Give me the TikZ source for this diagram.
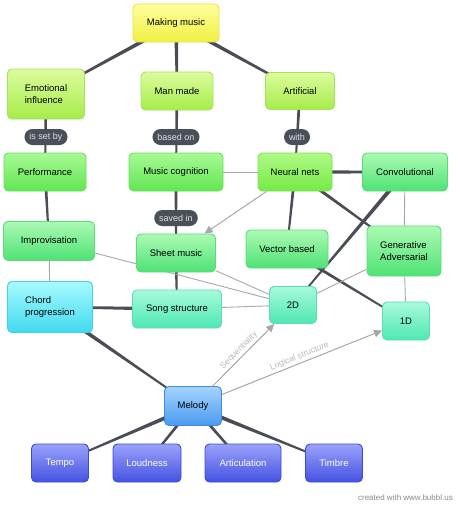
\documentclass[tikz,border=0pt]{standalone}
\usepackage{fontspec}
\setmainfont{Liberation Sans}
\usetikzlibrary{calc,arrows.meta}
\pgfdeclarelayer{bg}
\pgfsetlayers{bg,main}
\definecolor{edgedark}{HTML}{4A4D56}
\definecolor{edgegrey}{HTML}{A6A7AD}
\definecolor{pillcol}{HTML}{4B4F59}
\definecolor{lblgrey}{HTML}{B8B8BC}
\definecolor{credit}{HTML}{8A8A8A}
\definecolor{yelT}{HTML}{FFFF9E}\definecolor{yelB}{HTML}{F0F044}\definecolor{yelD}{HTML}{E3E34E}
\definecolor{limT}{HTML}{DDFC9E}\definecolor{limB}{HTML}{A6EC4A}\definecolor{limD}{HTML}{A3E45A}
\definecolor{nnT}{HTML}{B0FA84}\definecolor{nnB}{HTML}{74EA46}\definecolor{nnD}{HTML}{7EE060}
\definecolor{grnT}{HTML}{A8FA96}\definecolor{grnB}{HTML}{62E652}\definecolor{grnD}{HTML}{6CDC60}
\definecolor{mntT}{HTML}{ACFAB4}\definecolor{mntB}{HTML}{4EE274}\definecolor{mntD}{HTML}{5CDA7E}
\definecolor{aqT}{HTML}{A8FADC}\definecolor{aqB}{HTML}{4EE8B2}\definecolor{aqD}{HTML}{5CDEB2}
\definecolor{cyT}{HTML}{A8FAFE}\definecolor{cyB}{HTML}{40DAF0}\definecolor{cyD}{HTML}{4ACCE6}
\definecolor{blT}{HTML}{A6D4FE}\definecolor{blB}{HTML}{4A9AF0}\definecolor{blD}{HTML}{3C8CE2}
\definecolor{inT}{HTML}{9AA2FA}\definecolor{inB}{HTML}{4452E2}\definecolor{inD}{HTML}{3E4AD8}
\newcommand\taper[4]{\fill[edgedark] ($(#1)!#3!90:(#2)$) -- ($(#2)!#4!-90:(#1)$) -- ($(#2)!#4!90:(#1)$) -- ($(#1)!#3!-90:(#2)$) -- cycle;}
\tikzset{
  box/.style={rounded corners=4.5pt, line width=0.9pt, inner sep=2pt, align=center,
    font=\fontsize{9.5}{11.5}\selectfont, text=black},
  sz/.style 2 args={minimum width=#1pt, minimum height=#2pt},
  yel/.style={box, top color=yelT, bottom color=yelB, draw=yelD},
  lim/.style={box, top color=limT, bottom color=limB, draw=limD},
  nnc/.style={box, top color=nnT, bottom color=nnB, draw=nnD},
  grn/.style={box, top color=grnT, bottom color=grnB, draw=grnD},
  mnt/.style={box, top color=mntT, bottom color=mntB, draw=mntD},
  aq/.style={box, top color=aqT, bottom color=aqB, draw=aqD},
  cy/.style={box, top color=cyT, bottom color=cyB, draw=cyD},
  bl/.style={box, top color=blT, bottom color=blB, draw=blD},
  ind/.style={box, top color=inT, bottom color=inB, draw=inD, text=white},
  pill/.style={fill=pillcol, rounded corners=8pt, text=white!88!black,
    font=\fontsize{9}{10}\selectfont, inner xsep=5pt, inner ysep=2pt, minimum height=16pt},
  thinl/.style={draw=edgegrey, line width=0.9pt},
  garrow/.style={draw=edgegrey, line width=1pt, -{Triangle[length=8pt,width=7.5pt]}},
  lbl/.style={text=lblgrey, font=\fontsize{8.5}{10}\selectfont, inner sep=2pt}
}
\begin{document}
\begin{tikzpicture}[x=1pt,y=-1pt]
\useasboundingbox (0,0) rectangle (461,512);
% nodes
\node[yel,sz={86}{38}] (mm) at (176,23) {Making music};
\node[lim,sz={77}{50},align=left] (ei) at (46,94) {Emotional\\influence};
\node[lim,sz={72}{38}] (man) at (177,91) {Man made};
\node[lim,sz={69}{37}] (art) at (300,91) {Artificial};
\node[pill] (l1) at (46,137) {is set by};
\node[pill] (l2) at (176,137) {based on};
\node[pill] (l3) at (297,137) {with};
\node[grn,sz={82}{38}] (perf) at (45,172) {Performance};
\node[grn,sz={94}{38}] (mc) at (176,172) {Music cognition};
\node[nnc,sz={74}{38}] (nn) at (295,172) {Neural nets};
\node[mnt,sz={85}{38}] (conv) at (405,172) {Convolutional};
\node[mnt,sz={91}{39}] (imp) at (49,241) {Improvisation};
\node[pill] (l4) at (176,218) {saved in};
\node[mnt,sz={79}{38}] (sm) at (176,253) {Sheet music};
\node[mnt,sz={82}{38}] (vb) at (287,249) {Vector based};
\node[mnt,sz={74}{50},align=left] (gan) at (404,251) {Generative\\Adversarial};
\node[cy,sz={85}{51},align=left] (cp) at (50,307) {Chord\\progression};
\node[aq,sz={89}{38}] (ss) at (177,309) {Song structure};
\node[aq,sz={47}{37}] (d2) at (293,305) {2D};
\node[aq,sz={47}{38}] (d1) at (406,321) {1D};
\node[bl,sz={57}{39}] (mel) at (193,406) {Melody};
\node[ind,sz={57}{38}] (tempo) at (60,463) {Tempo};
\node[ind,sz={68}{38}] (loud) at (147,463) {Loudness};
\node[ind,sz={76}{38}] (artic) at (243,463) {Articulation};
\node[ind,sz={57}{38}] (timbre) at (334,463) {Timbre};
\node[text=credit, font=\fontsize{8}{9}\selectfont, anchor=east, inner sep=0pt] (credit) at (453,498) {created with www.bubbl.us};
% edges
\begin{pgfonlayer}{bg}
\taper{mm}{ei}{2.2pt}{0.9pt}
\taper{mm}{man}{2pt}{1pt}
\taper{mm}{art}{2.2pt}{0.9pt}
\taper{ei}{perf}{1.6pt}{0.8pt}
\taper{man}{mc}{1.6pt}{0.8pt}
\taper{art}{nn}{1.6pt}{0.8pt}
\taper{perf}{imp}{1.6pt}{0.8pt}
\taper{mc}{sm}{1.6pt}{0.8pt}
\taper{sm}{ss}{1.6pt}{0.8pt}
\taper{nn}{conv}{1.8pt}{1.2pt}
\taper{nn}{vb}{1.6pt}{0.8pt}
\taper{nn}{gan}{1.8pt}{0.7pt}
\taper{conv}{d2}{2.2pt}{0.7pt}
\taper{vb}{d1}{1.8pt}{0.7pt}
\taper{ss}{cp}{2pt}{1pt}
\taper{cp}{mel}{2.2pt}{0.7pt}
\taper{mel}{tempo}{2.2pt}{0.7pt}
\taper{mel}{loud}{1.6pt}{1pt}
\taper{mel}{artic}{1.6pt}{1pt}
\taper{mel}{timbre}{2.2pt}{0.7pt}
\draw[thinl] (mc) -- (nn);
\draw[thinl] (imp) -- (cp);
\draw[thinl] (imp) -- (d2);
\draw[thinl] (sm) -- (d2);
\draw[thinl] (ss) -- (d2);
\draw[thinl] (gan) -- (d2);
\draw[thinl] (conv) -- (gan);
\draw[thinl] (gan) -- (d1);
\draw[garrow] (nn) -- (sm);
\draw[garrow] (mel) -- node[sloped,above,lbl] {Sequentiality} (d2);
\draw[garrow] (mel) -- node[sloped,above,lbl] {Logical structure} (d1);
\end{pgfonlayer}
\end{tikzpicture}
\end{document}
